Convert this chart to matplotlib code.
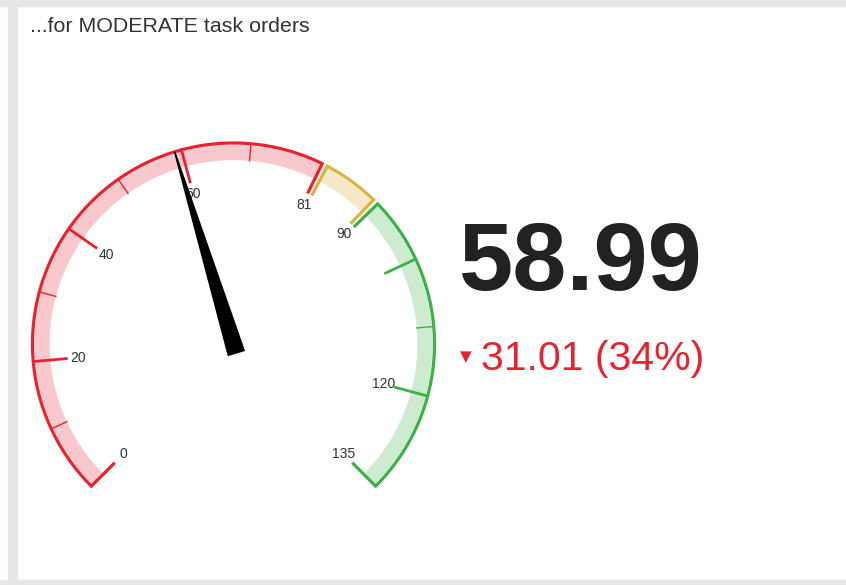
import numpy as np
import matplotlib
matplotlib.use("Agg")
import matplotlib.pyplot as plt
from matplotlib.patches import Wedge, Polygon, Rectangle

# ---------------- data ----------------
title = "...for MODERATE task orders"
gauge_min = 0
gauge_max = 135
current_value = 58.99
reference_value = 90.0
band_starts = [0, 81, 90]
band_ends = [81, 90, 135]
band_dark = ["#e8232f", "#dcb33e", "#3bb14a"]
band_light = ["#f9c8cd", "#f5e9c9", "#cdebcf"]
major_ticks = [20, 40, 60, 100, 120]
minor_ticks = [10, 30, 50, 70, 110]
tick_labels = [0, 20, 40, 60, 81, 90, 120, 135]

# ---------------- layout ----------------
W, H = 846, 585
fig = plt.figure(figsize=(W / 100, H / 100), dpi=100)
fig.patch.set_facecolor("white")
gray = "#e7e7e7"


def fr(x, y):
    return x / W, 1 - y / H


for (x0, y0, x1, y1) in [(0, 0, W, 6), (0, 580, W, H), (8, 6, 17, 580)]:
    fig.patches.append(Rectangle(fr(x0, y1), (x1 - x0) / W, (y1 - y0) / H,
                                 transform=fig.transFigure, color=gray, zorder=0))

cx, cy, Rpx = 233.5, 344.0, 201.0
L = 1.15
size = 2 * L * Rpx
ax = fig.add_axes([(cx - size / 2) / W, (H - cy - size / 2) / H, size / W, size / H])
ax.set_xlim(-L, L)
ax.set_ylim(-L, L)
ax.axis("off")
ax.patch.set_alpha(0)


def theta(v):
    return np.radians(-135 + 270 * (v - gauge_min) / (gauge_max - gauge_min))


def pol(v, r):
    t = theta(v)
    return r * np.sin(t), r * np.cos(t)


def band_of(v):
    for i, (s, e) in enumerate(zip(band_starts, band_ends)):
        if s <= v <= e:
            return i
    return 0


gap = 0.4
r_out, r_band, r_major = 1.0, 0.915, 0.835
for i, (s, e) in enumerate(zip(band_starts, band_ends)):
    s2 = s + (gap if s != gauge_min else 0)
    e2 = e - (gap if e != gauge_max else 0)
    phi1 = 90 - np.degrees(theta(e2))
    phi2 = 90 - np.degrees(theta(s2))
    ax.add_patch(Wedge((0, 0), 0.99, phi1, phi2, width=0.99 - r_band,
                       facecolor=band_light[i], edgecolor="none", zorder=1))
    vs = np.linspace(s2, e2, 200)
    xs = [pol(s2, r_major)[0]] + [pol(v, r_out)[0] for v in vs] + [pol(e2, r_major)[0]]
    ys = [pol(s2, r_major)[1]] + [pol(v, r_out)[1] for v in vs] + [pol(e2, r_major)[1]]
    ax.plot(xs, ys, color=band_dark[i], lw=2.3, solid_joinstyle="miter",
            solid_capstyle="butt", zorder=3)

for v in major_ticks:
    (x0, y0), (x1, y1) = pol(v, r_major), pol(v, r_out)
    ax.plot([x0, x1], [y0, y1], color=band_dark[band_of(v)], lw=2.0, zorder=3)
for v in minor_ticks:
    (x0, y0), (x1, y1) = pol(v, r_band), pol(v, r_out)
    ax.plot([x0, x1], [y0, y1], color=band_dark[band_of(v)], lw=1.0, zorder=3)

for v in tick_labels:
    x, y = pol(v, 0.775)
    ax.text(x, y, str(v), ha="center", va="center", fontsize=10,
            color="#333333", family="Liberation Sans", zorder=4)

# needle
t = theta(current_value)
u = np.array([np.sin(t), np.cos(t)])
n = np.array([np.cos(t), -np.sin(t)])
pts = [-0.05 * u + 0.045 * n, -0.05 * u - 0.045 * n, 1.0 * u - 0.004 * n, 1.0 * u + 0.004 * n]
ax.add_patch(Polygon(pts, closed=True, facecolor="black", edgecolor="none", zorder=6))

# texts
fig.text(*fr(30, 27), title, ha="left", va="center", fontsize=15.4,
         color="#333333", family="Liberation Sans")
fig.text(*fr(459, 290), f"{current_value:.2f}", ha="left", va="baseline",
         fontsize=70, fontweight="bold", color="#222222", family="Liberation Sans")
delta = reference_value - current_value
pct = delta / reference_value * 100
fig.text(*fr(460, 357), "\u25bc", ha="left", va="center", fontsize=11,
         color="#e8232f", family="DejaVu Sans")
fig.text(*fr(481, 370), f"{delta:.2f} ({pct:.0f}%)", ha="left", va="baseline",
         fontsize=29.5, color="#e8232f", family="Liberation Sans")

fig.savefig("out.png", dpi=100, facecolor=fig.get_facecolor())
